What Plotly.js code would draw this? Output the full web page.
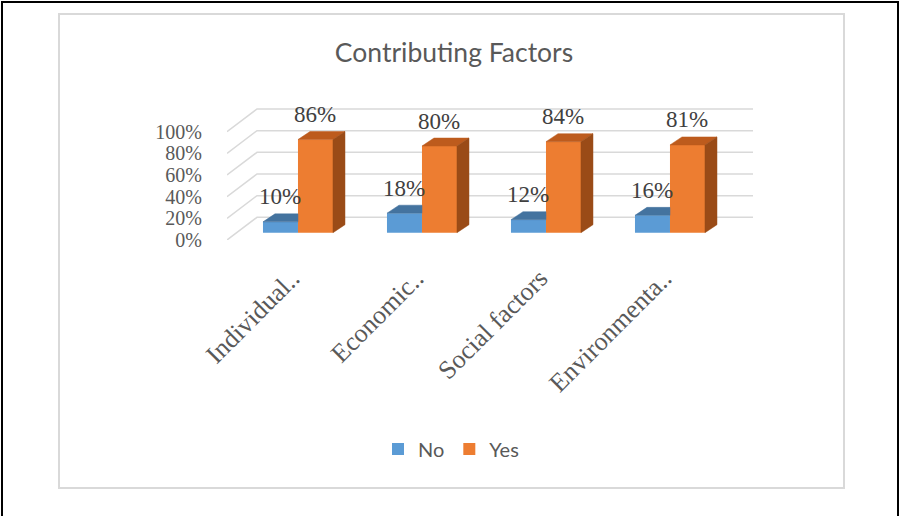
<!DOCTYPE html>
<html>
<head>
<meta charset="utf-8">
<script src="https://cdn.plot.ly/plotly-3.0.1.min.js"></script>
<style>
  html, body { margin: 0; padding: 0; background: #ffffff; }
  #chart { width: 901px; height: 516px; }
</style>
</head>
<body>
<div id="chart"></div>
<script>
// ---- data ----
const categories = ['Individual..', 'Economic..', 'Social factors', 'Environmenta..'];
const noValues = [10, 18, 12, 16];
const yesValues = [86, 80, 84, 81];
const seriesNames = ['No', 'Yes'];
const yTicks = [0, 20, 40, 60, 80, 100];
const yTickText = yTicks.map(v => v + '%');
const chartTitle = 'Contributing Factors';

// ---- geometry (pixels -> axis units) ----
const W = 901, H = 516;
const PLOT = { l: 227, r: 753, t: 95, b: 240 };
const PX_X = 124;      // px per category step
const PX_Y = 1.0833;   // px per percent point
const xMin = -0.495;
const xMax = xMin + (PLOT.r - PLOT.l) / PX_X;
const yMax = (PLOT.b - PLOT.t) / PX_Y;
const ux = px => px / PX_X;
const uy = px => px / PX_Y;
const FRONT = { dx: ux(9.6), dy: uy(7.3) };   // bar front plane offset from floor front
const WALL = { dx: ux(30), dy: uy(22.7) };    // floor depth (to back wall)
const BAR = { w: ux(35), dx: ux(12), dy: uy(8) };
const px2paperX = px => (px - PLOT.l) / (PLOT.r - PLOT.l);
const px2paperY = py => (PLOT.b - py) / (PLOT.b - PLOT.t);

const COLORS = {
  noFront: '#5b9bd5', noTop: '#44739f',
  yesFront: '#ed7d31', yesTop: '#bd5b1d', yesSide: '#9a4b17',
  grid: '#d9d9d9', text: '#595959', label: '#404040'
};

const xPos = categories.map((c, i) => i + FRONT.dx);
const xTickPos = xPos.map(x => x - ux(6));
const baseVals = categories.map(() => FRONT.dy);

// ---- 3D faces ----
const noTopX = [], noTopY = [], yesTopX = [], yesTopY = [], yesSideX = [], yesSideY = [];
categories.forEach((c, i) => {
  // blue top (right part hidden behind orange front)
  let L = xPos[i] - BAR.w, R = xPos[i], T = FRONT.dy + noValues[i];
  noTopX.push(L, R, R, L + BAR.dx, L, null);
  noTopY.push(T, T, T + BAR.dy, T + BAR.dy, T, null);
  // orange top
  L = xPos[i]; R = xPos[i] + BAR.w; T = FRONT.dy + yesValues[i];
  const B = FRONT.dy;
  yesTopX.push(L, R, R + BAR.dx, L + BAR.dx, L, null);
  yesTopY.push(T, T, T + BAR.dy, T + BAR.dy, T, null);
  // orange side
  yesSideX.push(R, R, R + BAR.dx, R + BAR.dx, R, null);
  yesSideY.push(B, T, T + BAR.dy, B + BAR.dy, B, null);
});

function face(x, y, color) {
  return {
    type: 'scatter', mode: 'lines', x: x, y: y, fill: 'toself',
    fillcolor: color, line: { color: color, width: 0.5 },
    showlegend: false, hoverinfo: 'skip'
  };
}

const traces = [
  {
    type: 'bar', name: seriesNames[0], x: xPos, y: noValues, base: baseVals,
    width: BAR.w, offset: -BAR.w, marker: { color: COLORS.noFront, line: { width: 0 } },
    hoverinfo: 'skip'
  },
  {
    type: 'bar', name: seriesNames[1], x: xPos, y: yesValues, base: baseVals,
    width: BAR.w, offset: 0, marker: { color: COLORS.yesFront, line: { width: 0 } },
    hoverinfo: 'skip'
  },
  face(noTopX, noTopY, COLORS.noTop),
  face(yesTopX, yesTopY, COLORS.yesTop),
  face(yesSideX, yesSideY, COLORS.yesSide)
];

// ---- gridlines (side wall + back wall) ----
const shapes = yTicks.map(v => ({
  type: 'path', xref: 'x', yref: 'y', layer: 'below',
  path: `M${xMin},${v} L${xMin + WALL.dx},${v + WALL.dy} L${xMax},${v + WALL.dy}`,
  line: { color: COLORS.grid, width: 1.5 }
}));
// inner chart-area border
shapes.push({
  type: 'rect', xref: 'paper', yref: 'paper', layer: 'below',
  x0: px2paperX(59), x1: px2paperX(844), y0: px2paperY(14), y1: px2paperY(488),
  line: { color: '#d9d9d9', width: 2 }
});
// outer page border
shapes.push({
  type: 'path', xref: 'paper', yref: 'paper', layer: 'above',
  path: `M${px2paperX(2)},${px2paperY(520)} L${px2paperX(2)},${px2paperY(2)} L${px2paperX(898)},${px2paperY(2)} L${px2paperX(898)},${px2paperY(520)}`,
  line: { color: '#000000', width: 2 }
});

// ---- data labels ----
const annotations = [];
categories.forEach((c, i) => {
  annotations.push({
    x: xPos[i] - BAR.w / 2, y: FRONT.dy + noValues[i], xref: 'x', yref: 'y',
    text: noValues[i] + '%', showarrow: false, xanchor: 'center', yanchor: 'middle', yshift: 25,
    font: { family: 'Liberation Serif', size: 23, color: COLORS.label }
  });
  annotations.push({
    x: xPos[i] + BAR.w / 2, y: FRONT.dy + yesValues[i], xref: 'x', yref: 'y',
    text: yesValues[i] + '%', showarrow: false, xanchor: 'center', yanchor: 'middle', yshift: 25,
    font: { family: 'Liberation Serif', size: 23, color: COLORS.label }
  });
});

const layout = {
  width: W, height: H,
  margin: { l: PLOT.l, r: W - PLOT.r, t: PLOT.t, b: H - PLOT.b, pad: 0 },
  paper_bgcolor: '#ffffff', plot_bgcolor: 'rgba(0,0,0,0)',
  barmode: 'overlay',
  title: {
    text: chartTitle, xref: 'container', yref: 'container',
    x: 454 / W, y: 1 - 53 / H, xanchor: 'center', yanchor: 'middle',
    font: { family: 'Lato', size: 26.5, color: COLORS.text }
  },
  xaxis: {
    range: [xMin, xMax], tickmode: 'array', tickvals: xTickPos, ticktext: categories,
    tickangle: -45, showgrid: false, zeroline: false, showline: false, ticks: '',
    ticklabelstandoff: 17, automargin: false, fixedrange: true,
    tickfont: { family: 'Liberation Serif', size: 26, color: COLORS.text }
  },
  yaxis: {
    range: [0, yMax], tickmode: 'array', tickvals: yTicks, ticktext: yTickText,
    showgrid: false, zeroline: false, showline: false, ticks: '',
    ticklabelstandoff: 24, automargin: false, fixedrange: true,
    tickfont: { family: 'Liberation Serif', size: 20, color: COLORS.text }
  },
  legend: {
    orientation: 'h', x: px2paperX(451), xanchor: 'center',
    y: px2paperY(449), yanchor: 'middle', bgcolor: 'rgba(0,0,0,0)',
    font: { family: 'Lato', size: 20, color: COLORS.text }, traceorder: 'normal'
  },
  shapes: shapes,
  annotations: annotations
};

Plotly.newPlot('chart', traces, layout, { displayModeBar: false, staticPlot: true });
</script>
</body>
</html>
